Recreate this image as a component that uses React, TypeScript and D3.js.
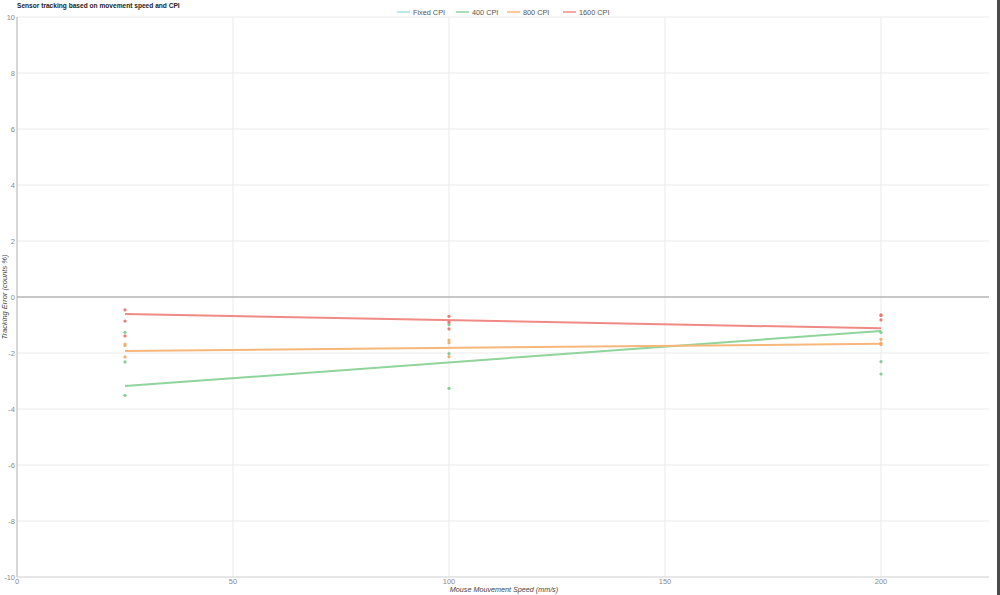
import React from "react";
import * as d3 from "d3";

const title = "Sensor tracking based on movement speed and CPI";
const xTitle = "Mouse Mouvement Speed (mm/s)";
const yTitle = "Tracking Error (counts %)";

const seriesNames = ["Fixed CPI", "400 CPI", "800 CPI", "1600 CPI"];
const speeds = [25, 100, 200];
const xTicks = [0, 50, 100, 150, 200];
const yTicks = [10, 8, 6, 4, 2, 0, -2, -4, -6, -8, -10];

// measured points per speed (three trials each)
const fixedCpi: number[][] = [[], [], []];
const cpi400 = [
  [-1.26, -2.32, -3.51],
  [-0.99, -2.02, -3.26],
  [-1.26, -2.31, -2.75],
];
const cpi800 = [
  [-1.68, -1.74, -2.14],
  [-1.54, -1.63, -2.13],
  [-1.51, -1.65, -1.7],
];
const cpi1600 = [
  [-0.46, -0.86, -1.39],
  [-0.69, -0.9, -1.14],
  [-0.64, -0.82, -0.66],
];

// trendline end values at first and last speed
const trendX = [25, 200];
const trendFixed: number[] = [];
const trend400 = [-3.18, -1.21];
const trend800 = [-1.93, -1.67];
const trend1600 = [-0.61, -1.12];

const lineColors = ["#a6e3e6", "#8fd49a", "#f7b77a", "#f08a85"];
const pointColors = ["#7fd6dc", "#7cc98a", "#f2a860", "#ea6f66"];

const W = 1000;
const H = 595;
const left = 17;
const right = 989;
const top = 17;
const bottom = 577;

export default function App() {
  const x = d3.scaleLinear().domain([0, 225]).range([left, right]);
  const y = d3.scaleLinear().domain([-10, 10]).range([bottom, top]);
  const allPoints = [fixedCpi, cpi400, cpi800, cpi1600];
  const allTrends = [trendFixed, trend400, trend800, trend1600];
  const line = d3
    .line<number>()
    .x((_, i) => x(trendX[i]))
    .y((d) => y(d));

  const legendX = [397, 456, 507, 563];
  const font = "Arial, 'Liberation Sans', sans-serif";

  return (
    <svg
      width={W}
      height={H}
      style={{ position: "absolute", left: 0, top: 0, background: "#fff" }}
      fontFamily={font}
    >
      <rect x={0} y={0} width={W} height={H} fill="#ffffff" />
      {/* grid */}
      {yTicks.map((t) => (
        <line
          key={"gy" + t}
          x1={left}
          x2={right}
          y1={y(t)}
          y2={y(t)}
          stroke="#ebebeb"
          strokeWidth={1}
        />
      ))}
      {xTicks
        .filter((t) => t !== 0)
        .map((t) => (
          <line
            key={"gx" + t}
            x1={x(t)}
            x2={x(t)}
            y1={top}
            y2={bottom}
            stroke="#ebebeb"
            strokeWidth={1}
          />
        ))}
      {/* zero line */}
      <line x1={left} x2={right} y1={y(0)} y2={y(0)} stroke="#9a9a9a" strokeWidth={1} />
      {/* axes */}
      <line x1={left} x2={left} y1={top} y2={bottom} stroke="#b0b0b0" strokeWidth={1} />
      <line x1={left} x2={right} y1={bottom} y2={bottom} stroke="#d8d8d8" strokeWidth={1} />

      {/* y tick labels */}
      {yTicks.map((t) => (
        <text
          key={"ty" + t}
          x={left - 2}
          y={y(t)}
          dy="0.35em"
          textAnchor="end"
          fontSize={7.5}
          fill="#8a8a8a"
        >
          {t}
        </text>
      ))}
      {/* x tick labels */}
      {xTicks.map((t) => (
        <text
          key={"tx" + t}
          x={x(t)}
          y={bottom + 7}
          textAnchor="middle"
          fontSize={7.5}
          fill="#8a8a8a"
        >
          {t}
        </text>
      ))}

      {/* trendlines */}
      {allTrends.map((tr, si) =>
        tr.length ? (
          <path
            key={"tr" + si}
            d={line(tr) || ""}
            fill="none"
            stroke={lineColors[si]}
            strokeWidth={2}
          />
        ) : null
      )}

      {/* points */}
      {allPoints.map((ser, si) =>
        ser.map((vals, xi) =>
          vals.map((v, k) => (
            <circle
              key={`p${si}-${xi}-${k}`}
              cx={x(speeds[xi])}
              cy={y(v)}
              r={1.6}
              fill={pointColors[si]}
              opacity={0.9}
            />
          ))
        )
      )}

      {/* title */}
      <text x={17} y={8} fontSize={6.6} fontWeight="bold" fill="#222">
        {title}
      </text>

      {/* legend */}
      {seriesNames.map((n, i) => (
        <g key={"lg" + i}>
          <line
            x1={legendX[i]}
            x2={legendX[i] + 13}
            y1={12}
            y2={12}
            stroke={lineColors[i]}
            strokeWidth={1.5}
          />
          <text x={legendX[i] + 16} y={12} dy="0.35em" fontSize={7.3} fill="#555">
            {n}
          </text>
        </g>
      ))}

      {/* axis titles */}
      <text
        x={(left + right) / 2 + 1}
        y={592}
        textAnchor="middle"
        fontSize={7.2}
        fontStyle="italic"
        fill="#444"
      >
        {xTitle}
      </text>
      <text
        transform={`translate(7,${y(0)}) rotate(-90)`}
        textAnchor="middle"
        fontSize={7.5}
        fontStyle="italic"
        fill="#444"
      >
        {yTitle}
      </text>

      {/* right window edge */}
      <rect x={997} y={0} width={3} height={H} fill="#4a4a4a" />
    </svg>
  );
}
